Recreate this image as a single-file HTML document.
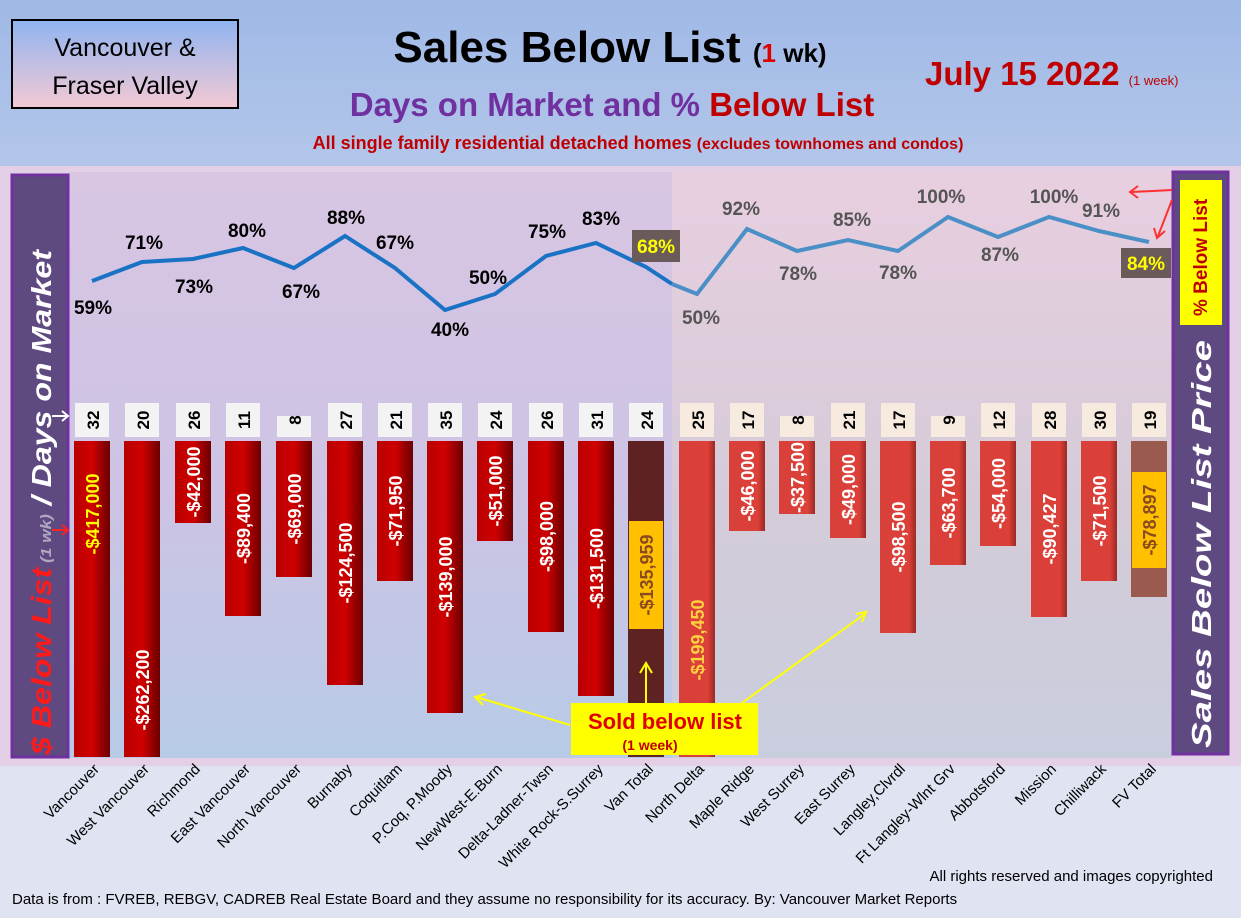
<!DOCTYPE html>
<html><head><meta charset="utf-8"><style>
body{margin:0;width:1241px;height:918px;overflow:hidden;background:#dfe3f2}
svg{display:block;font-family:"Liberation Sans",sans-serif}
</style></head><body>
<svg width="1241" height="918" viewBox="0 0 1241 918">
<defs>
<linearGradient id="hdr" x1="0" y1="0" x2="0" y2="1"><stop offset="0" stop-color="#9fb9e6"/><stop offset="1" stop-color="#b3c6ea"/></linearGradient>
<linearGradient id="pl" x1="0" y1="0" x2="0" y2="1"><stop offset="0" stop-color="#d8c6e3"/><stop offset="0.55" stop-color="#cdc3e4"/><stop offset="1" stop-color="#b7cbe6"/></linearGradient>
<linearGradient id="pr" x1="0" y1="0" x2="0" y2="1"><stop offset="0" stop-color="#e8cfe0"/><stop offset="0.55" stop-color="#d5cbd8"/><stop offset="1" stop-color="#c9cede"/></linearGradient>
<linearGradient id="box" x1="0" y1="0" x2="0" y2="1"><stop offset="0" stop-color="#8fb4f0"/><stop offset="1" stop-color="#f4c9d4"/></linearGradient>
<linearGradient id="rb" x1="0" y1="0" x2="1" y2="0"><stop offset="0" stop-color="#b80000"/><stop offset="0.5" stop-color="#d00000"/><stop offset="1" stop-color="#6a0000"/></linearGradient>
<linearGradient id="rb2" x1="0" y1="0" x2="1" y2="0"><stop offset="0" stop-color="#d8403a"/><stop offset="0.8" stop-color="#dc4038"/><stop offset="1" stop-color="#9a2a26"/></linearGradient>
</defs>
<rect width="1241" height="918" fill="#dfe3f2"/>
<rect x="0" y="0" width="1241" height="166" fill="url(#hdr)"/>
<rect x="0" y="166" width="1241" height="600" fill="#e3cfe6"/>
<rect x="12" y="20" width="226" height="88" fill="url(#box)" stroke="#000" stroke-width="2"/>
<text x="125" y="56" font-size="25" text-anchor="middle">Vancouver &amp;</text>
<text x="125" y="94" font-size="25" text-anchor="middle">Fraser Valley</text>
<text x="610" y="62" font-size="44" font-weight="bold" text-anchor="middle">Sales Below List <tspan font-size="26">(<tspan fill="#e00000">1</tspan> wk)</tspan></text>
<text x="612" y="116" font-size="33" font-weight="bold" text-anchor="middle" fill="#7030a0">Days on Market and % <tspan fill="#c00000">Below List</tspan></text>
<text x="638" y="149" font-size="18" font-weight="bold" text-anchor="middle" fill="#c00000">All single family residential detached homes <tspan font-size="16">(excludes townhomes and condos)</tspan></text>
<text x="925" y="85" font-size="33" font-weight="bold" fill="#c00000">July 15  2022 <tspan font-size="13" font-weight="normal">(1 week)</tspan></text>
<rect x="68" y="172" width="604" height="586" fill="url(#pl)"/>
<rect x="672" y="172" width="500" height="586" fill="url(#pr)"/>
<rect x="12" y="175" width="56" height="582" fill="#5e4a80" stroke="#7030a0" stroke-width="3"/>
<rect x="1173" y="172" width="55" height="582" fill="#5e4a80" stroke="#7030a0" stroke-width="3"/>
<text transform="translate(51,755) rotate(-90)" font-size="28" font-weight="bold" font-style="italic" fill="#fff" textLength="505" lengthAdjust="spacingAndGlyphs"><tspan fill="#ff1a1a">$ Below List</tspan><tspan font-size="15" fill="#b0a8c0"> (1 wk)</tspan> / Days on Market</text>
<text transform="translate(1211,748) rotate(-90)" font-size="28" font-weight="bold" font-style="italic" fill="#fff" textLength="408" lengthAdjust="spacingAndGlyphs">Sales Below List Price</text>
<rect x="1180" y="180" width="42" height="145" fill="#ffff00"/>
<text transform="translate(1207,316) rotate(-90)" font-size="19" font-weight="bold" fill="#c00000">% Below List</text>
<g id="bars"></g>
<g stroke="#ff3030" stroke-width="2" fill="none"><path d="M1172 190 L1132 192 M1138 186 L1130 192 L1138 198"/><path d="M1172 200 L1158 236 M1154 228 L1157 238 L1165 231"/></g>
<polyline fill="none" stroke="#1a72c4" stroke-width="4" points="92,281 142,262 193,259 243,248 294,268 345,236 395,268 445,310 495,294 546,256 596,243 646,267 672,284"/>
<polyline fill="none" stroke="#4a8fc6" stroke-width="4" points="672,284 697,294 747,229 797,251 848,240 898,251 948,217 998,237 1049,217 1099,231 1149,242"/>
<g font-size="19" font-weight="bold" text-anchor="middle" fill="#000">
<text x="93" y="314">59%</text><text x="144" y="249">71%</text><text x="194" y="293">73%</text><text x="247" y="237">80%</text><text x="301" y="298">67%</text><text x="346" y="224">88%</text><text x="395" y="249">67%</text><text x="450" y="336">40%</text><text x="488" y="284">50%</text><text x="547" y="238">75%</text><text x="601" y="225">83%</text>
</g>
<g font-size="19" font-weight="bold" text-anchor="middle" fill="#555">
<text x="701" y="324">50%</text><text x="741" y="215">92%</text><text x="798" y="280">78%</text><text x="852" y="226">85%</text><text x="898" y="279">78%</text><text x="941" y="203">100%</text><text x="1000" y="261">87%</text><text x="1054" y="203">100%</text><text x="1101" y="217">91%</text>
</g>
<rect x="632" y="230" width="48" height="32" fill="#6b5a5a"/><text x="656" y="253" font-size="19" font-weight="bold" text-anchor="middle" fill="#ffff00">68%</text>
<rect x="1121" y="248" width="50" height="30" fill="#6b5a5a"/><text x="1146" y="270" font-size="19" font-weight="bold" text-anchor="middle" fill="#ffff00">84%</text>
<path d="M52 416 L68 416 M62 411 L68 416 L62 421" stroke="#fff" stroke-width="2" fill="none"/>
<path d="M52 530 L68 530 M62 525 L68 530 L62 535" stroke="#ff2020" stroke-width="2" fill="none"/>
<g stroke="#ffff00" stroke-width="2" fill="none">
<path d="M646 705 L646 665 M640 673 L646 663 L652 673"/>
<path d="M570 725 L476 697 M483 705 L475 697 L486 694"/>
<path d="M735 708 L866 613 M856 614 L866 612 L862 622"/>
</g>
<rect x="571" y="703" width="187" height="52" fill="#ffff00"/>
<text x="665" y="729" font-size="22" font-weight="bold" text-anchor="middle" fill="#e00000">Sold below list</text>
<text x="650" y="750" font-size="14" font-weight="bold" text-anchor="middle" fill="#c00000">(1 week)</text>
<g id="xl" font-size="15" text-anchor="end" fill="#000"></g>
<text x="1213" y="881" font-size="15" text-anchor="end">All rights reserved and  images copyrighted</text>
<text x="12" y="904" font-size="15">Data is from : FVREB, REBGV, CADREB Real Estate Board and they assume no responsibility for its accuracy. By: Vancouver Market Reports</text>
</svg>
<script>
var ns="http://www.w3.org/2000/svg";
var names=["Vancouver","West Vancouver","Richmond","East Vancouver","North Vancouver","Burnaby","Coquitlam","P.Coq, P.Moody","NewWest-E.Burn","Delta-Ladner-Twsn","White Rock-S.Surrey","Van Total","North Delta","Maple Ridge","West Surrey","East Surrey","Langley,Clvrdl","Ft Langley-Wlnt Grv","Abbotsford","Mission","Chilliwack","FV Total"];
var cx=[92,142,193,243,294,345,395,445,495,546,596,646,697,747,797,848,898,948,998,1049,1099,1149];
var bot=[757,757,523,616,577,685,581,713,541,632,696,757,757,531,514,538,633,565,546,617,581,597];
var dom=[32,20,26,11,8,27,21,35,24,26,31,24,25,17,8,21,17,9,12,28,30,19];
var val=["-$417,000","-$262,200","-$42,000","-$89,400","-$69,000","-$124,500","-$71,950","-$139,000","-$51,000","-$98,000","-$131,500","-$135,959","-$199,450","-$46,000","-$37,500","-$49,000","-$98,500","-$63,700","-$54,000","-$90,427","-$71,500","-$78,897"];
var g=document.getElementById("bars"),xl=document.getElementById("xl");
function el(t,a,p,txt){var e=document.createElementNS(ns,t);for(var k in a)e.setAttribute(k,a[k]);if(txt)e.textContent=txt;p.appendChild(e);return e;}
for(var i=0;i<22;i++){
 var x=cx[i],fv=i>=12,tot=(i==11||i==21);
 var fill=i==11?"#5e2222":i==21?"#9a5a4e":fv?"url(#rb2)":"url(#rb)";
 el("rect",{x:x-18,y:441,width:36,height:bot[i]-441,fill:fill},g);
 var short=(dom[i]<10);
 var by=short?416:403;
 el("rect",{x:x-17,y:by,width:34,height:437-by,fill:fv?"#f7ebe0":"#f3f3f3"},g);
 el("text",{transform:"translate("+(x+7)+",420) rotate(-90)","font-size":"17","font-weight":"bold","text-anchor":"middle"},g,String(dom[i]));
 var mid=(441+bot[i])/2, col="#fff";
 if(i==0){mid=514;col="#ffff00";}
 if(i==12){mid=640;col="#ffd040";}
 if(i==1){mid=690;}
 if(tot){var ty=i==11?521:472,th=i==11?108:96;el("rect",{x:x-17,y:ty,width:34,height:th,fill:"#ffc000"},g);mid=ty+th/2;col="#8a4a20";}
 el("text",{transform:"translate("+(x+7)+","+mid+") rotate(-90)","font-size":"18","font-weight":"bold","text-anchor":"middle",fill:col},g,val[i]);
 el("text",{transform:"translate("+(x+8)+",770) rotate(-45)"},xl,names[i]);
}
</script>
</body></html>
